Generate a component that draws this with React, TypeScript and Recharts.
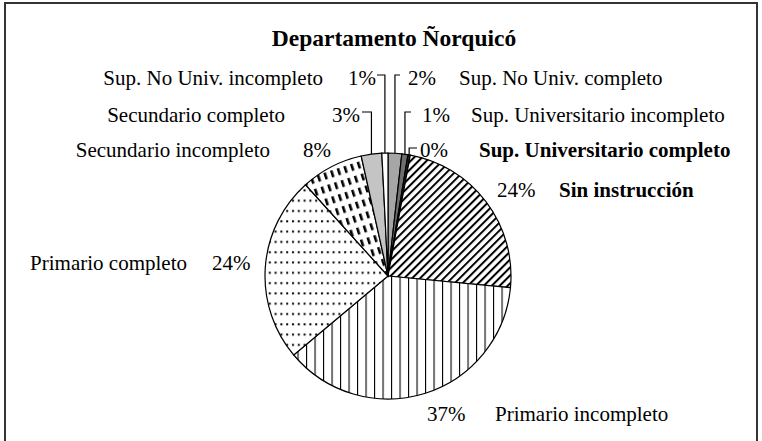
import { PieChart, Pie, Cell } from 'recharts';

// slices clockwise from 12 o'clock
const categories = [
  'Sup. No Univ. completo',
  'Sup. Universitario incompleto',
  'Sup. Universitario completo',
  'Sin instrucción',
  'Primario incompleto',
  'Primario completo',
  'Secundario incompleto',
  'Secundario completo',
  'Sup. No Univ. incompleto',
];
const shares = [1.8, 0.8, 0.3, 23.6, 37.4, 24.4, 8.2, 2.7, 0.8];
const boldNames = [false, false, true, true, false, false, false, false, false];

const fills = [
  '#a6a6a6',
  '#6e6e6e',
  '#222222',
  'url(#hatch)',
  'url(#vlines)',
  'url(#dots)',
  'url(#dashes)',
  '#c4c4c4',
  '#ffffff',
];

// label placement: baseline y, pct x, name x, side, leader tick y (null = no leader)
const labelLayout = [
  { y: 85, pctX: 408, nameX: 459, side: 'right', tickY: 75, tickX: 400 },
  { y: 122, pctX: 422, nameX: 471, side: 'right', tickY: 112, tickX: 411 },
  { y: 157, pctX: 420, nameX: 479, side: 'right', tickY: 148, tickX: 417 },
  { y: 197, pctX: 497, nameX: 559, side: 'right', tickY: null, tickX: 0 },
  { y: 421, pctX: 427, nameX: 495, side: 'right', tickY: null, tickX: 0 },
  { y: 270, pctX: 212, nameX: 187, side: 'left', tickY: null, tickX: 0 },
  { y: 157, pctX: 303, nameX: 270, side: 'left', tickY: null, tickX: 0 },
  { y: 122, pctX: 332, nameX: 285, side: 'left', tickY: 112, tickX: 362 },
  { y: 85, pctX: 348, nameX: 323, side: 'left', tickY: 75, tickX: 377 },
];

const data = categories.map((name, i) => ({ name, value: shares[i] }));
const total = shares.reduce((a, b) => a + b, 0);
const RAD = Math.PI / 180;
const FONT = '"Liberation Serif", "Times New Roman", serif';

function renderLabel(props: any) {
  const { cx, cy, midAngle, outerRadius, index } = props;
  const l = labelLayout[index];
  const pct = Math.round((shares[index] / total) * 100) + '%';
  const ex = cx + outerRadius * Math.cos(-midAngle * RAD);
  const ey = cy + outerRadius * Math.sin(-midAngle * RAD);
  return (
    <g key={'lbl-' + index}>
      {l.tickY !== null && (
        <polyline
          points={`${l.tickX},${l.tickY} ${ex},${l.tickY} ${ex},${ey}`}
          fill="none"
          stroke="#000"
          strokeWidth={1.2}
        />
      )}
      <text x={l.pctX} y={l.y} fontFamily={FONT} fontSize={21} fill="#000">
        {pct}
      </text>
      <text
        x={l.nameX}
        y={l.y}
        fontFamily={FONT}
        fontSize={21}
        fontWeight={boldNames[index] ? 'bold' : 'normal'}
        textAnchor={l.side === 'left' ? 'end' : 'start'}
        fill="#000"
      >
        {categories[index]}
      </text>
    </g>
  );
}

export default function App() {
  return (
    <div style={{ position: 'absolute', left: 0, top: 0, width: 762, height: 441, overflow: 'hidden', background: '#fff' }}>
      <svg width={0} height={0} style={{ position: 'absolute' }}>
        <defs>
          <pattern id="hatch" width={5.6} height={5.6} patternUnits="userSpaceOnUse" patternTransform="rotate(45)">
            <rect width={5.6} height={5.6} fill="#fff" />
            <rect x={0} y={0} width={2} height={5.6} fill="#000" />
          </pattern>
          <pattern id="vlines" width={8.5} height={10} patternUnits="userSpaceOnUse">
            <rect width={8.5} height={10} fill="#fff" />
            <rect x={0} y={0} width={1.1} height={10} fill="#000" />
          </pattern>
          <pattern id="dots" width={5.8} height={10.3} patternUnits="userSpaceOnUse">
            <rect width={5.8} height={10.3} fill="#fff" />
            <rect x={2} y={4} width={2} height={2} fill="#000" />
          </pattern>
          <pattern id="dashes" width={7} height={12.5} patternUnits="userSpaceOnUse" patternTransform="rotate(-18)">
            <rect width={7} height={12.5} fill="#fff" />
            <rect x={2} y={2} width={2.6} height={7} fill="#000" />
          </pattern>
        </defs>
      </svg>
      <div
        style={{
          position: 'absolute',
          left: 4,
          top: 2,
          width: 754,
          height: 460,
          border: '2px solid #333',
          boxSizing: 'border-box',
        }}
      />
      <div
        style={{
          position: 'absolute',
          left: 0,
          top: 24,
          width: 788,
          textAlign: 'center',
          fontFamily: FONT,
          fontWeight: 'bold',
          fontSize: 23.5,
          lineHeight: '28px',
        }}
      >
        Departamento Ñorquicó
      </div>
      <PieChart width={762} height={441} margin={{ top: 0, right: 0, bottom: 0, left: 0 }} style={{ position: 'absolute', left: 0, top: 0 }}>
        <Pie
          data={data}
          dataKey="value"
          nameKey="name"
          cx={388}
          cy={276}
          outerRadius={123}
          startAngle={90}
          endAngle={-270}
          stroke="#000"
          strokeWidth={1.2}
          label={renderLabel}
          labelLine={false}
          isAnimationActive={false}
        >
          {data.map((d, i) => (
            <Cell key={d.name} fill={fills[i]} />
          ))}
        </Pie>
      </PieChart>
    </div>
  );
}
